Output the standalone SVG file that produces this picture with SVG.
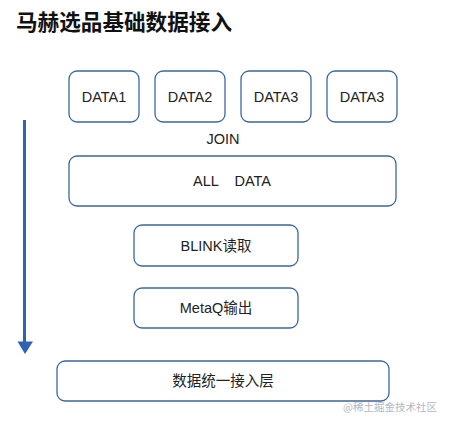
<svg xmlns="http://www.w3.org/2000/svg" width="449" height="424" viewBox="0 0 449 424">
<style>
.box{fill:#fff;stroke:#3c679c;stroke-width:1.3}
.t{font-family:"Liberation Sans","Noto Sans CJK SC",sans-serif;font-size:14.5px;fill:#222;text-anchor:middle;dominant-baseline:central}
.title{font-family:"Noto Sans CJK SC","Liberation Sans",sans-serif;font-size:21.5px;font-weight:bold;fill:#111}
.wm{font-family:"Noto Sans CJK SC",sans-serif;font-size:10.5px;fill:#b4b8bf;text-anchor:end}
</style>
<rect width="449" height="424" fill="#fff"/>
<text class="title" x="16" y="30" textLength="216" lengthAdjust="spacingAndGlyphs">马赫选品基础数据接入</text>
<g id="connectors">
<line x1="24.5" y1="120" x2="24.5" y2="343" stroke="#2d63b5" stroke-width="3"/>
<path d="M17.5 341.5 L33 341.5 L25 354 Z" fill="#2d63b5"/>
</g>
<g id="data1"><rect class="box" x="69" y="71" width="70" height="51" rx="8"/><text class="t" x="104" y="96.5">DATA1</text></g>
<g id="data2"><rect class="box" x="155" y="71" width="70" height="51" rx="8"/><text class="t" x="190" y="96.5">DATA2</text></g>
<g id="data3a"><rect class="box" x="241" y="71" width="70" height="51" rx="8"/><text class="t" x="276" y="96.5">DATA3</text></g>
<g id="data3b"><rect class="box" x="327" y="71" width="70" height="51" rx="8"/><text class="t" x="362" y="96.5">DATA3</text></g>
<g id="join"><text class="t" x="223" y="139">JOIN</text></g>
<g id="alldata"><rect class="box" x="69" y="156" width="327" height="50" rx="8"/><text class="t" x="232" y="181" xml:space="preserve">ALL    DATA</text></g>
<g id="blink"><rect class="box" x="134" y="225" width="164" height="41" rx="8"/><text class="t" x="216" y="245.5">BLINK读取</text></g>
<g id="metaq"><rect class="box" x="134" y="288" width="164" height="40" rx="8"/><text class="t" x="216" y="308">MetaQ输出</text></g>
<g id="access"><rect class="box" x="57" y="361" width="332" height="40" rx="8"/><text class="t" x="223" y="381">数据统一接入层</text></g>
<text class="wm" x="437" y="411">@稀土掘金技术社区</text>
</svg>
